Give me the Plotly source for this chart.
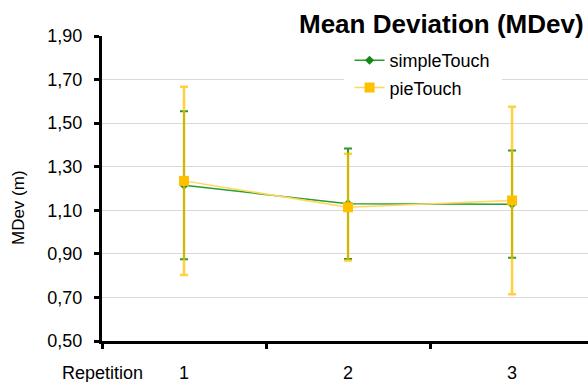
import plotly.graph_objects as go

# Repetition index and per-condition mean deviation with standard deviation
repetitions = [1, 2, 3]
simple_mean = [1.215, 1.130, 1.128]
simple_sd = [0.340, 0.254, 0.246]
pie_mean = [1.235, 1.114, 1.145]
pie_sd = [0.432, 0.245, 0.430]
y_ticks = [0.5, 0.7, 0.9, 1.1, 1.3, 1.5, 1.7, 1.9]

FONT = "Liberation Sans, Arial, sans-serif"

fig = go.Figure()

fig.add_trace(go.Scatter(
    x=repetitions, y=simple_mean, name="simpleTouch",
    legendgroup="simple",
    mode="lines+markers",
    line=dict(color="#2A9E2A", width=1.5),
    marker=dict(symbol="diamond", size=7, color="#128A12"),
    error_y=dict(type="data", array=simple_sd, visible=True,
                 color="#2A9A2A", thickness=2, width=4),
))

fig.add_trace(go.Scatter(
    x=repetitions, y=pie_mean, name="pieTouch",
    legendgroup="pie",
    mode="lines+markers",
    line=dict(color="#FFD75E", width=1.5),
    marker=dict(symbol="square", size=10, color="#FFC000"),
    error_y=dict(type="data", array=pie_sd, visible=True,
                 color="rgba(255,192,0,0.75)", thickness=2.5, width=4),
))

fig.update_layout(
    width=588, height=382,
    margin=dict(l=102, r=0, t=36, b=41),
    paper_bgcolor="white", plot_bgcolor="white",
    separators=",.",
    font=dict(family=FONT, size=18, color="black"),
    showlegend=True,
    legend=dict(
        x=0.497, y=1.0, xanchor="left", yanchor="top",
        bgcolor="white", bordercolor="white", borderwidth=6,
        font=dict(family=FONT, size=18, color="black"),
        itemwidth=30, tracegroupgap=1,
    ),
    xaxis=dict(
        range=[0.5, 3.463],
        tickmode="array", tickvals=repetitions,
        ticktext=[str(r) for r in repetitions],
        ticks="", showgrid=False, zeroline=False,
        showline=True, linecolor="black", linewidth=3,
        ticklabelstandoff=13,
        tickfont=dict(family=FONT, size=18, color="black"),
        minor=dict(tickmode="array", tickvals=[0.5, 1.5, 2.5, 3.5],
                   ticks="outside", ticklen=5, tickwidth=3,
                   tickcolor="black", showgrid=False),
    ),
    yaxis=dict(
        range=[0.5, 1.9],
        tickmode="array", tickvals=y_ticks, tickformat=".2f",
        ticks="outside", ticklen=5, tickwidth=3, tickcolor="black",
        showgrid=True, gridcolor="#D9D9D9", gridwidth=1,
        zeroline=False,
        showline=True, linecolor="black", linewidth=3,
        ticklabelstandoff=8,
        tickfont=dict(family=FONT, size=18, color="black"),
    ),
)

# Chart title on a white box, drawn over the top gridline
fig.add_annotation(
    text="<b>Mean Deviation (MDev)</b>",
    xref="paper", yref="paper", x=0.698, y=1.039,
    xanchor="center", yanchor="middle", showarrow=False,
    bgcolor="white", borderpad=4,
    font=dict(family=FONT, size=26, color="black"),
)

# Axis titles
fig.add_annotation(
    text="MDev (m)", textangle=-90,
    xref="paper", yref="paper", x=-0.173, y=0.439,
    xanchor="center", yanchor="middle", showarrow=False,
    font=dict(family=FONT, size=17, color="black"),
)
fig.add_annotation(
    text="Repetition",
    xref="paper", yref="paper", x=-0.0864, y=-0.106,
    xanchor="left", yanchor="middle", showarrow=False,
    font=dict(family=FONT, size=18, color="black"),
)

fig.write_html("out.html")
